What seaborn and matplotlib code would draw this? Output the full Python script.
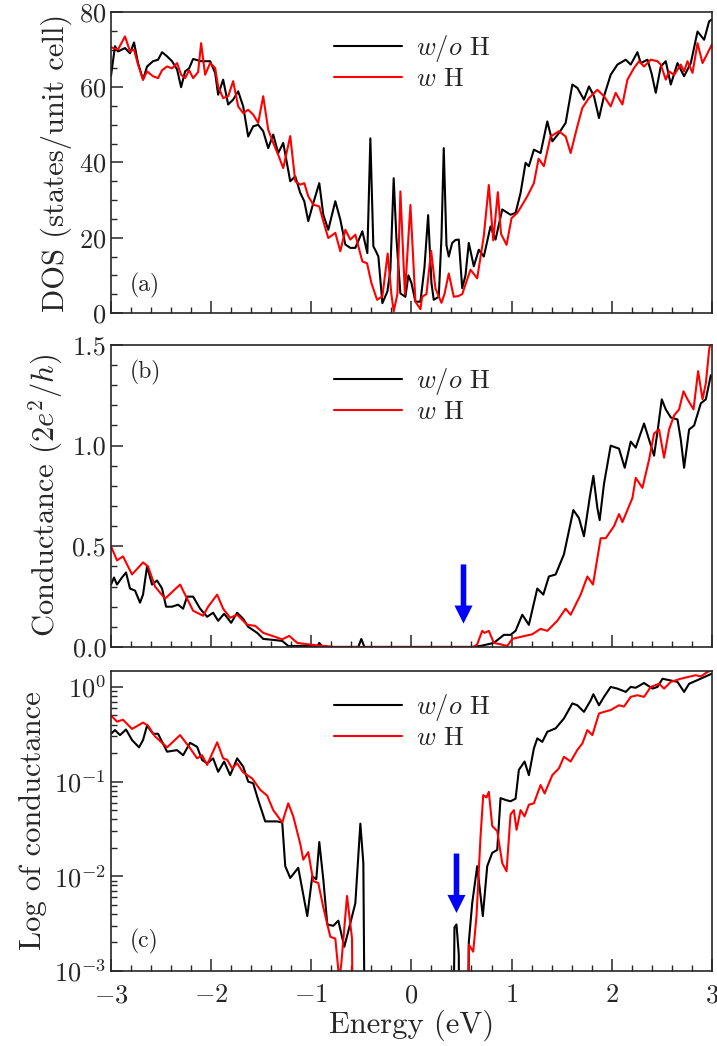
import numpy as np
import pandas as pd
import matplotlib
matplotlib.use("Agg")
import matplotlib.pyplot as plt
from matplotlib.ticker import MultipleLocator, NullFormatter
import seaborn as sns

# ---- data ----
# (a) density of states
dos_e_black = [-3.00, -2.96, -2.93, -2.86, -2.81, -2.77, -2.73, -2.68, -2.64, -2.58, -2.53, -2.49, -2.44, -2.39,
               -2.34, -2.30, -2.26, -2.22, -2.18, -2.10, -2.01, -1.96, -1.93, -1.88, -1.83, -1.78, -1.73, -1.68,
               -1.63, -1.58, -1.53, -1.48, -1.43, -1.38, -1.33, -1.28, -1.21, -1.16, -1.11, -1.07, -1.03, -0.98,
               -0.92, -0.88, -0.83, -0.76, -0.71, -0.66, -0.61, -0.56, -0.49, -0.44, -0.41, -0.38, -0.36, -0.33,
               -0.29, -0.24, -0.21, -0.177, -0.15, -0.11, -0.06, -0.03, 0.00, 0.04, 0.09, 0.13, 0.167, 0.20,
               0.223, 0.273, 0.30, 0.323, 0.35, 0.373, 0.407, 0.44, 0.473, 0.507, 0.54, 0.573, 0.623, 0.673,
               0.723, 0.79, 0.84, 0.907, 0.99, 1.04, 1.09, 1.14, 1.173, 1.223, 1.29, 1.357, 1.407, 1.473, 1.54,
               1.607, 1.657, 1.723, 1.773, 1.823, 1.873, 1.923, 1.99, 2.057, 2.14, 2.19, 2.257, 2.29, 2.357,
               2.397, 2.44, 2.49, 2.54, 2.59, 2.657, 2.723, 2.79, 2.857, 2.923, 2.973, 3.00]
dos_black = [63, 70.9, 69.5, 70.4, 69, 71.9, 66.4, 62, 65.5, 66.9, 67.3, 69.3, 68.2, 66.9,
             64.7, 60, 64.2, 65, 67.5, 66.9, 66.9, 63.8, 58, 62, 55.4, 56.7, 58.9, 54.9,
             46.9, 49.6, 50, 48.3, 43.8, 47.4, 42.5, 45.2, 35, 36.3, 31.9, 29.7, 24.4, 29.2,
             34.5, 26.1, 22.1, 29.7, 24.8, 18.2, 17.3, 17.3, 21.7, 15.9, 46.4, 17.7, 16.7, 15,
             2.6, 5.7, 11.4, 35.8, 20, 5.2, 4.3, 10, 8, 3, 3, 12, 26, 8,
             3.5, 4.3, 20, 43.8, 18, 15, 18.6, 19.4, 19.5, 6.6, 10, 18.6, 12.4, 16.8,
             15, 23, 19.5, 27.5, 26.1, 26.6, 31.9, 39.9, 39, 43.4, 42.5, 50.9, 45.6, 47.8, 50.5,
             60.7, 59.8, 56.7, 60.2, 57.6, 51.8, 57.6, 63.3, 66, 67.3, 66, 69.3, 66.4, 67.3,
             63.8, 58.5, 65.5, 66.9, 60.7, 66.4, 62.9, 66.4, 74.8, 72.6, 77.5, 78]

dos_e_red = [-3.00, -2.93, -2.86, -2.81, -2.77, -2.73, -2.68, -2.64, -2.58, -2.53, -2.49, -2.44, -2.39, -2.34,
             -2.30, -2.26, -2.22, -2.18, -2.13, -2.10, -2.06, -2.01, -1.96, -1.93, -1.88, -1.83, -1.78, -1.73,
             -1.68, -1.63, -1.58, -1.53, -1.48, -1.43, -1.38, -1.33, -1.28, -1.21, -1.16, -1.11, -1.07, -1.03,
             -0.98, -0.92, -0.88, -0.83, -0.76, -0.71, -0.66, -0.61, -0.56, -0.49, -0.443, -0.40, -0.343,
             -0.29, -0.237, -0.20, -0.177, -0.14, -0.11, -0.065, -0.01, 0.04, 0.09, 0.107, 0.15, 0.197, 0.24,
             0.30, 0.33, 0.373, 0.423, 0.47, 0.507, 0.59, 0.657, 0.723, 0.773, 0.817, 0.863, 0.895, 0.95,
             1.00, 1.057, 1.097, 1.157, 1.223, 1.27, 1.323, 1.39, 1.473, 1.54, 1.59, 1.657, 1.707, 1.773,
             1.857, 1.923, 1.99, 2.04, 2.107, 2.157, 2.223, 2.273, 2.323, 2.39, 2.457, 2.49, 2.54, 2.573,
             2.623, 2.69, 2.723, 2.757, 2.807, 2.857, 2.907, 3.00]
dos_red = [70.6, 70, 73.5, 69.5, 70, 66, 62, 64.2, 62.9, 62.4, 64.5, 65.5, 65, 66.4,
           63.3, 62.4, 64.5, 62.4, 64, 71.7, 63.3, 66.4, 65.1, 60.2, 57.1, 57.6, 61.6, 54.9,
           53.1, 54, 52.7, 50.5, 57.6, 48.7, 45.2, 42, 38.5, 47, 35, 34.1, 34.5, 31,
           28.8, 28.3, 24.4, 19.9, 21.3, 16.4, 22.1, 19.5, 20.8, 13.7, 13.2, 8, 3.5,
           4.4, 15.8, 5, 0.4, 5, 32.3, 5, 28.7, 3, 1, 4.3, 5, 16.5, 6.5,
           2.7, 5, 10.5, 4.3, 4.5, 5, 11.5, 9.2, 20.5, 34, 19.3, 32.1, 21, 18.1,
           25.2, 26.6, 28.3, 31, 34.5, 41, 39, 46.9, 48.3, 46.9, 42.5, 49.6, 54.5, 57.1,
           59.3, 57.6, 54.9, 58.5, 55.4, 62, 65.1, 66.9, 65.5, 67.3, 66.9, 66, 62, 64.2,
           63.3, 66, 64.2, 66.9, 63.8, 71.7, 66.4, 71.3]

# (b) conductance, linear scale
g_e_black = [-3.00, -2.97, -2.94, -2.89, -2.85, -2.81, -2.76, -2.71, -2.68, -2.64, -2.59, -2.54, -2.49, -2.45,
             -2.39, -2.33, -2.28, -2.24, -2.18, -2.11, -2.04, -1.98, -1.93, -1.87, -1.80, -1.74, -1.68, -1.63,
             -1.54, -1.48, -1.38, -1.29, -1.23, -1.11, -1.00, -0.94, -0.92, -0.89, -0.78, -0.53, -0.50, -0.47,
             0.60, 0.69, 0.823, 0.923, 0.99, 1.04, 1.107, 1.173, 1.257, 1.317, 1.373, 1.44, 1.523, 1.617,
             1.673, 1.723, 1.783, 1.817, 1.857, 1.88, 1.923, 1.99, 2.073, 2.13, 2.19, 2.24, 2.323, 2.373,
             2.423, 2.463, 2.50, 2.54, 2.59, 2.657, 2.69, 2.723, 2.773, 2.823, 2.89, 2.94, 2.99, 3.00]
g_black = [0.31, 0.345, 0.31, 0.345, 0.37, 0.29, 0.28, 0.22, 0.26, 0.40, 0.31, 0.33, 0.29, 0.20,
           0.20, 0.21, 0.19, 0.25, 0.25, 0.19, 0.15, 0.17, 0.13, 0.165, 0.12, 0.17, 0.14, 0.10,
           0.07, 0.04, 0.035, 0.03, 0.005, 0.005, 0.005, 0.003, 0.02, 0.003, 0.0, 0.0, 0.04, 0.0,
           0.0, 0.005, 0.02, 0.06, 0.06, 0.08, 0.16, 0.11, 0.29, 0.26, 0.35, 0.36, 0.46, 0.68,
           0.64, 0.55, 0.75, 0.85, 0.69, 0.63, 0.81, 1.00, 0.985, 0.89, 1.02, 0.99, 1.11, 1.03,
           0.95, 1.09, 1.23, 1.18, 1.14, 1.13, 1.03, 0.89, 1.08, 1.10, 1.21, 1.23, 1.35, 1.34]

g_e_red = [-3.00, -2.94, -2.88, -2.79, -2.68, -2.63, -2.56, -2.46, -2.31, -2.18, -2.08, -2.03, -1.94, -1.88,
           -1.81, -1.74, -1.64, -1.56, -1.48, -1.39, -1.29, -1.22, -1.14, -0.98, -0.78, 0.62, 0.657, 0.707,
           0.73, 0.773, 0.823, 0.89, 0.957, 1.007, 1.09, 1.207, 1.29, 1.357, 1.457, 1.54, 1.59, 1.69,
           1.757, 1.813, 1.89, 1.94, 2.023, 2.073, 2.107, 2.207, 2.24, 2.307, 2.373, 2.423, 2.473, 2.523,
           2.573, 2.623, 2.673, 2.717, 2.757, 2.817, 2.863, 2.907, 2.94, 2.973, 3.00]
g_red = [0.50, 0.43, 0.45, 0.36, 0.42, 0.40, 0.30, 0.24, 0.31, 0.18, 0.155, 0.20, 0.26, 0.19,
         0.145, 0.16, 0.11, 0.105, 0.07, 0.055, 0.038, 0.055, 0.02, 0.01, 0.0, 0.0, 0.013, 0.08,
         0.07, 0.08, 0.02, 0.013, 0.005, 0.04, 0.05, 0.063, 0.09, 0.08, 0.13, 0.19, 0.16, 0.26,
         0.35, 0.31, 0.54, 0.54, 0.60, 0.66, 0.62, 0.74, 0.84, 0.79, 0.93, 1.06, 1.08, 0.94,
         1.08, 1.15, 1.18, 1.27, 1.23, 1.18, 1.37, 1.23, 1.31, 1.475, 1.55]

# (c) conductance, log scale (1e-6 = below the axis)
lg_e_black = [-3.00, -2.96, -2.91, -2.85, -2.79, -2.72, -2.68, -2.64, -2.58, -2.53, -2.44, -2.34, -2.28, -2.21,
              -2.14, -2.09, -2.04, -1.98, -1.93, -1.87, -1.81, -1.74, -1.68, -1.63, -1.58, -1.53, -1.46, -1.41,
              -1.34, -1.29, -1.26, -1.21, -1.13, -1.04, -0.99, -0.95, -0.92, -0.88, -0.84, -0.78, -0.73, -0.67,
              -0.62, -0.56, -0.51, -0.48, -0.45, 0.40, 0.43, 0.45, 0.473, 0.49, 0.55, 0.573, 0.607, 0.657,
              0.713, 0.757, 0.807, 0.857, 0.89, 0.94, 0.99, 1.04, 1.073, 1.13, 1.173, 1.223, 1.257, 1.307,
              1.357, 1.44, 1.523, 1.607, 1.657, 1.723, 1.79, 1.817, 1.873, 1.923, 1.99, 2.057, 2.14, 2.19,
              2.24, 2.323, 2.407, 2.457, 2.507, 2.573, 2.657, 2.723, 2.773, 2.857, 2.923, 3.00]
lg_black = [0.32, 0.35, 0.31, 0.355, 0.275, 0.23, 0.275, 0.39, 0.32, 0.32, 0.207, 0.215, 0.19, 0.257,
            0.233, 0.169, 0.156, 0.176, 0.127, 0.163, 0.117, 0.176, 0.144, 0.10, 0.096, 0.064, 0.038, 0.038,
            0.038, 0.037, 0.0128, 0.0096, 0.0123, 0.0038, 0.010, 0.0093, 0.023, 0.0093, 0.0031, 0.003, 0.0034, 0.0018,
            0.0029, 0.0052, 0.036, 0.0138, 1e-6, 1e-6, 0.0029, 0.0031, 0.0015, 1e-6, 1e-6, 0.002, 0.0052, 0.0128,
            0.0038, 0.0128, 0.0177, 0.019, 0.067, 0.064, 0.062, 0.066, 0.133, 0.163, 0.117, 0.224, 0.286, 0.263,
            0.336, 0.365, 0.464, 0.67, 0.64, 0.545, 0.72, 0.837, 0.64, 0.785, 1.0, 0.96, 0.886, 1.0,
            0.98, 1.1, 0.96, 1.0, 1.22, 1.18, 1.13, 0.886, 1.08, 1.18, 1.27, 1.38]

lg_e_red = [-3.00, -2.94, -2.88, -2.79, -2.68, -2.63, -2.56, -2.44, -2.31, -2.21, -2.14, -2.09, -2.04, -1.94,
            -1.88, -1.84, -1.79, -1.74, -1.68, -1.59, -1.51, -1.44, -1.38, -1.29, -1.23, -1.18, -1.11, -1.08,
            -1.03, -0.98, -0.93, -0.88, -0.81, -0.76, -0.72, -0.70, -0.643, -0.593, -0.57, 0.54, 0.573, 0.617,
            0.65, 0.69, 0.717, 0.75, 0.773, 0.807, 0.857, 0.907, 0.95, 0.99, 1.023, 1.05, 1.09, 1.13,
            1.173, 1.223, 1.29, 1.33, 1.407, 1.473, 1.523, 1.59, 1.657, 1.707, 1.757, 1.807, 1.873, 1.923,
            1.99, 2.073, 2.123, 2.19, 2.257, 2.323, 2.39, 2.473, 2.523, 2.59, 2.69, 2.757, 2.84, 2.89,
            2.957, 3.00]
lg_red = [0.50, 0.43, 0.45, 0.36, 0.42, 0.39, 0.30, 0.23, 0.31, 0.225, 0.176, 0.19, 0.15, 0.26,
          0.176, 0.17, 0.138, 0.156, 0.125, 0.108, 0.082, 0.071, 0.05, 0.037, 0.059, 0.043, 0.022, 0.015,
          0.018, 0.0089, 0.0085, 0.0047, 0.0023, 0.0022, 0.0008, 0.0012, 0.0062, 0.0022, 1e-6, 1e-6, 0.0019, 0.0016,
          0.0038, 0.026, 0.072, 0.068, 0.078, 0.034, 0.03, 0.0138, 0.0113, 0.045, 0.05, 0.031, 0.05, 0.043,
          0.057, 0.059, 0.092, 0.075, 0.117, 0.138, 0.183, 0.163, 0.216, 0.253, 0.35, 0.31, 0.524, 0.545,
          0.57, 0.64, 0.62, 0.785, 0.817, 0.785, 1.0, 1.08, 0.96, 1.13, 1.22, 1.27, 1.33, 1.29,
          1.44, 1.5]

labels = [r"$w/o$ H", r"$w$ H"]
panel_tags = ["(a)", "(b)", "(c)"]
# arrow positions (energy, tail, tip)
arrow_b = (0.52, 0.41, 0.116)
arrow_c = (0.45, 0.0174, 0.0041)

# ---- style ----
sns.set_style("ticks")
plt.rcParams["font.family"] = ["cmr10", "DejaVu Serif"]
plt.rcParams["mathtext.fontset"] = "cm"
plt.rcParams["axes.formatter.use_mathtext"] = True
plt.rcParams["axes.unicode_minus"] = True
plt.rcParams["axes.linewidth"] = 1.2
plt.rcParams["xtick.direction"] = "in"
plt.rcParams["ytick.direction"] = "in"

fig = plt.figure(figsize=(7.17, 10.46), dpi=100)
left, width = 0.1548, 0.838
ax_a = fig.add_axes([left, 0.7008, width, 0.2878])
ax_b = fig.add_axes([left, 0.3815, width, 0.2887])
ax_c = fig.add_axes([left, 0.0717, width, 0.2868])

lw = 1.5
curves = [
    (ax_a, dos_e_black, dos_black, dos_e_red, dos_red),
    (ax_b, g_e_black, g_black, g_e_red, g_red),
    (ax_c, lg_e_black, lg_black, lg_e_red, lg_red),
]
for ax, xb, yb, xr, yr in curves:
    df_b = pd.DataFrame({"E": xb, "v": yb})
    df_r = pd.DataFrame({"E": xr, "v": yr})
    sns.lineplot(data=df_b, x="E", y="v", color="black", lw=lw, ax=ax, label=labels[0], estimator=None)
    sns.lineplot(data=df_r, x="E", y="v", color="red", lw=lw, ax=ax, label=labels[1], estimator=None)

ax_c.set_yscale("log")

ax_a.set_ylim(0, 80)
ax_a.yaxis.set_major_locator(MultipleLocator(20))
ax_a.yaxis.set_minor_locator(MultipleLocator(5))
ax_b.set_ylim(0, 1.5)
ax_b.yaxis.set_major_locator(MultipleLocator(0.5))
ax_b.yaxis.set_minor_locator(MultipleLocator(0.1))
ax_b.yaxis.set_major_formatter(matplotlib.ticker.FormatStrFormatter("%.1f"))
ax_c.set_ylim(1e-3, 10 ** 0.168)

for ax in (ax_a, ax_b, ax_c):
    ax.set_xlim(-3, 3)
    ax.xaxis.set_major_locator(MultipleLocator(1))
    ax.xaxis.set_minor_locator(MultipleLocator(0.2))
    ax.tick_params(which="major", length=8.5, width=1.1, labelsize=19, top=False, right=False)
    ax.tick_params(which="minor", length=4.3, width=1.0, top=False, right=False)
    ax.tick_params(axis="x", pad=9)
    ax.set_xlabel("")
    ax.legend(frameon=False, loc="upper left", bbox_to_anchor=(0.34, 0.99), fontsize=19,
              handlelength=2.6, handletextpad=0.5, labelspacing=0.1, borderaxespad=0.3)
for ax in (ax_a, ax_b):
    ax.xaxis.set_major_formatter(NullFormatter())

ax_a.set_ylabel("DOS (states/unit cell)", fontsize=22, labelpad=5)
ax_b.set_ylabel(r"Conductance $(2e^2/h)$", fontsize=22, labelpad=5)
ax_c.set_ylabel("Log of conductance", fontsize=22, labelpad=5)
ax_c.set_xlabel("Energy (eV)", fontsize=22, labelpad=2)

ax_a.text(0.032, 0.09, panel_tags[0], transform=ax_a.transAxes, fontsize=17, va="center")
ax_b.text(0.032, 0.91, panel_tags[1], transform=ax_b.transAxes, fontsize=17, va="center")
ax_c.text(0.032, 0.10, panel_tags[2], transform=ax_c.transAxes, fontsize=17, va="center")

for ax, (xe, y0, y1) in ((ax_b, arrow_b), (ax_c, arrow_c)):
    ax.annotate("", xy=(xe, y1), xytext=(xe, y0),
                arrowprops=dict(facecolor="blue", edgecolor="none", width=4, headwidth=13, headlength=13))

fig.savefig("out.png", dpi=100)
